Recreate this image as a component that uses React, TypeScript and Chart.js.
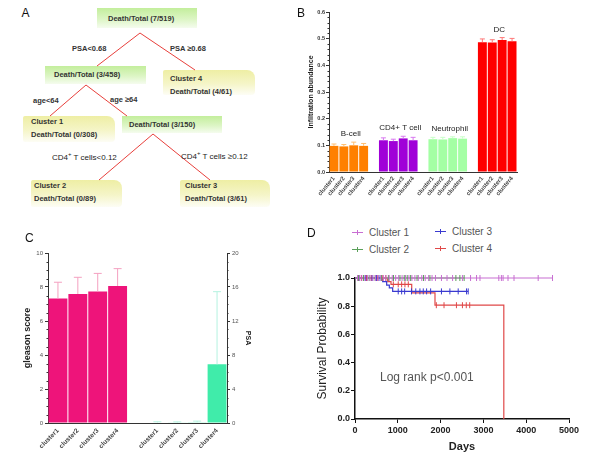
import React, { useEffect, useRef } from 'react';
import { Chart, registerables } from 'chart.js';

Chart.register(...registerables);

const FONT = '"Liberation Sans", Arial, Helvetica, sans-serif';
Chart.defaults.font.family = FONT;

// ---------------- Panel B data ----------------
const cellTypes = ['B-cell', 'CD4+ T cell', 'Neutrophil', 'DC'];
const clusterNames = ['cluster1', 'cluster2', 'cluster3', 'cluster4'];
const bcellValues = [0.098, 0.096, 0.1, 0.098];
const bcellErrors = [0.007, 0.007, 0.012, 0.009];
const cd4Values = [0.119, 0.116, 0.126, 0.119];
const cd4Errors = [0.009, 0.007, 0.008, 0.011];
const neutroValues = [0.123, 0.122, 0.127, 0.125];
const neutroErrors = [0.007, 0.008, 0.005, 0.007];
const dcValues = [0.487, 0.486, 0.495, 0.49];
const dcErrors = [0.012, 0.01, 0.009, 0.011];
const cellColors = ['#ff8000', '#a000d8', '#a4ffa4', '#ff0000'];
const cellErrColors = ['#ffbf70', '#d878f0', '#c8ffc8', '#ff7878'];

// ---------------- Panel C data ----------------
const cCategories = ['cluster1', 'cluster2', 'cluster3', 'cluster4', '', 'cluster1', 'cluster2', 'cluster3', 'cluster4'];
const gleasonValues = [7.33, 7.59, 7.73, 8.06];
const gleasonErrors = [0.95, 0.98, 1.07, 1.02];
const psaValues = [0.06, 0.05, 0.08, 6.9];
const psaErrors = [0.08, 0.08, 0.14, 8.55];

// ---------------- Panel D data ----------------
const kmNames = ['Cluster 1', 'Cluster 2', 'Cluster 3', 'Cluster 4'];
const kmColors = ['#c86ed2', '#5aa05a', '#3a3ad0', '#e04848'];
const c1Times = [0, 4615];
const c1Surv = [1, 1];
const c2Times = [0, 2550];
const c2Surv = [1, 1];
const c3Times = [0, 647, 740, 802, 880, 2645];
const c3Surv = [1, 0.974, 0.95, 0.93, 0.905, 0.905];
const c4Times = [0, 764, 841, 1325, 1869, 3477];
const c4Surv = [1, 0.975, 0.955, 0.895, 0.807, 0];
const c1Censor = [60, 110, 160, 230, 290, 350, 420, 480, 540, 600, 660, 720, 800, 870, 950, 1020, 1100, 1180, 1260, 1330, 1400, 1480, 1560, 1640, 1720, 1800, 1880, 2020, 2150, 2280, 2510, 2700, 2840, 2920, 3360, 3420, 3460, 3575, 3715, 4280, 4615];
const c2Censor = [80, 200, 330, 470, 620, 780, 900, 1050, 1150, 1220, 1300, 1450, 1600, 1750, 2357, 2450, 2550];
const c3Censor = [100, 250, 400, 500, 560, 1010, 1090, 1160, 1320, 1420, 1517, 1595, 1673, 1767, 2020, 2217, 2411, 2606, 2645];
const c4Censor = [70, 150, 270, 380, 520, 650, 720, 895, 1010, 1090, 1167, 1245, 1900, 2080, 2370, 2510, 2600, 2680];

// ---------------- plugins ----------------
function errorBars(sets: any[]) {
  return {
    id: 'errorBars',
    afterDatasetsDraw(chart: any) {
      const ctx = chart.ctx;
      sets.forEach((s) => {
        const meta = chart.getDatasetMeta(s.dataset);
        const ds = chart.data.datasets[s.dataset];
        const scale = chart.scales[meta.yAxisID];
        meta.data.forEach((el: any, i: number) => {
          const v = ds.data[i];
          const e = s.errors[i];
          if (v == null || e == null) return;
          const x = el.x;
          const y0 = scale.getPixelForValue(v);
          const y1 = scale.getPixelForValue(v + e);
          ctx.save();
          ctx.strokeStyle = Array.isArray(s.colors) ? s.colors[i] : s.colors;
          ctx.lineWidth = s.lineWidth || 1;
          ctx.beginPath();
          ctx.moveTo(x, y0);
          ctx.lineTo(x, y1);
          ctx.moveTo(x - s.cap, y1);
          ctx.lineTo(x + s.cap, y1);
          ctx.stroke();
          ctx.restore();
        });
      });
    },
  };
}

function minorTicks(specs: any[]) {
  return {
    id: 'minorTicks',
    afterDraw(chart: any) {
      const ctx = chart.ctx;
      specs.forEach((sp) => {
        const sc = chart.scales[sp.axis];
        const n = Math.round((sc.max - sc.min) / sp.step);
        ctx.save();
        ctx.strokeStyle = sp.color || '#333';
        ctx.lineWidth = 1;
        ctx.beginPath();
        for (let k = 0; k <= n; k++) {
          const v = sc.min + k * sp.step;
          const r = v / sp.major;
          if (Math.abs(r - Math.round(r)) < 1e-6) continue;
          const py = Math.round(sc.getPixelForValue(v)) + 0.5;
          if (sp.side === 'left') {
            ctx.moveTo(sc.right, py);
            ctx.lineTo(sc.right - sp.len, py);
          } else {
            ctx.moveTo(sc.left, py);
            ctx.lineTo(sc.left + sp.len, py);
          }
        }
        ctx.stroke();
        ctx.restore();
      });
    },
  };
}

function groupLabels(items: any[], errs: any[]) {
  return {
    id: 'groupLabels',
    afterDatasetsDraw(chart: any) {
      const meta = chart.getDatasetMeta(0);
      const data = chart.data.datasets[0].data;
      const ys = chart.scales.y;
      const ctx = chart.ctx;
      ctx.save();
      ctx.font = '8px ' + FONT;
      ctx.fillStyle = '#222';
      ctx.textAlign = 'center';
      ctx.textBaseline = 'middle';
      items.forEach((it) => {
        let top = 0;
        for (let i = it.from; i <= it.to; i++) top = Math.max(top, data[i] + (errs[i] || 0));
        const x = (meta.data[it.from].x + meta.data[it.to].x) / 2;
        ctx.fillText(it.text, x + 2, ys.getPixelForValue(top) - 8);
      });
      ctx.restore();
    },
  };
}

// ---------------- chart configs ----------------
function makeB() {
  const groups = [bcellValues, cd4Values, neutroValues, dcValues];
  const gErrs = [bcellErrors, cd4Errors, neutroErrors, dcErrors];
  const labels: string[] = [];
  const data: any[] = [];
  const errs: any[] = [];
  const colors: string[] = [];
  const errColors: string[] = [];
  const ranges: any[] = [];
  groups.forEach((vals, g) => {
    if (g > 0) {
      labels.push('');
      data.push(null);
      errs.push(null);
      colors.push('rgba(0,0,0,0)');
      errColors.push('rgba(0,0,0,0)');
    }
    const start = labels.length;
    vals.forEach((v, i) => {
      labels.push(clusterNames[i]);
      data.push(v);
      errs.push(gErrs[g][i]);
      colors.push(cellColors[g]);
      errColors.push(cellErrColors[g]);
    });
    ranges.push({ text: cellTypes[g], from: start, to: labels.length - 1 });
  });
  return {
    type: 'bar',
    data: {
      labels,
      datasets: [{ data, backgroundColor: colors, borderWidth: 0, barPercentage: 0.9, categoryPercentage: 1 }],
    },
    options: {
      animation: false,
      responsive: false,
      layout: { padding: { top: 12, right: 8, left: 0, bottom: 0 } },
      plugins: { legend: { display: false }, tooltip: { enabled: false } },
      scales: {
        x: {
          grid: { display: true, drawOnChartArea: false, drawTicks: false },
          border: { color: '#333', width: 1 },
          ticks: { autoSkip: false, minRotation: 50, maxRotation: 50, padding: 3, color: '#444', font: { size: 6, weight: 'bold' } },
          afterFit: (s: any) => { s.height = 53; },
        },
        y: {
          min: 0,
          max: 0.6,
          ticks: { stepSize: 0.1, callback: (v: any) => Number(v).toFixed(1), padding: 1, color: '#333', font: { size: 5.5, weight: 'bold' } },
          grid: { display: true, drawOnChartArea: false, drawTicks: true, tickLength: 3, color: '#333' },
          border: { color: '#333', width: 1 },
          title: { display: true, text: 'Infiltration abundance', color: '#222', font: { size: 7, weight: 'bold' }, padding: { top: 16.8, bottom: 0 } },
          afterFit: (s: any) => { s.width = 39; },
        },
      },
    },
    plugins: [
      errorBars([{ dataset: 0, errors: errs, colors: errColors, cap: 2.5 }]),
      minorTicks([{ axis: 'y', step: 0.02, major: 0.1, len: 1.5, side: 'left' }]),
      groupLabels(ranges, errs),
    ],
  };
}

function makeC() {
  const pink = [...gleasonValues, null, null, null, null, null];
  const pinkErr = [...gleasonErrors, null, null, null, null, null];
  const green = [null, null, null, null, null, ...psaValues];
  const greenErr = [null, null, null, null, null, ...psaErrors];
  return {
    type: 'bar',
    data: {
      labels: cCategories,
      datasets: [
        { data: pink, yAxisID: 'y', backgroundColor: '#ee147a', borderWidth: 0, grouped: false, barPercentage: 0.95, categoryPercentage: 1 },
        { data: green, yAxisID: 'y2', backgroundColor: '#40ecaa', borderWidth: 0, grouped: false, barPercentage: 0.95, categoryPercentage: 1 },
      ],
    },
    options: {
      animation: false,
      responsive: false,
      layout: { padding: { top: 23, right: 40, left: 0, bottom: 0 } },
      plugins: { legend: { display: false }, tooltip: { enabled: false } },
      scales: {
        x: {
          grid: { display: true, drawOnChartArea: false, drawTicks: false },
          border: { color: '#333', width: 1 },
          ticks: { autoSkip: false, minRotation: 45, maxRotation: 45, padding: 4, color: '#444', font: { size: 6.5, weight: 'bold' } },
          afterFit: (s: any) => { s.height = 35; },
        },
        y: {
          position: 'left',
          min: 0,
          max: 10,
          ticks: { stepSize: 2, padding: 2, color: '#555', font: { size: 6 } },
          grid: { display: true, drawOnChartArea: false, drawTicks: true, tickLength: 3, color: '#333' },
          border: { color: '#333', width: 1 },
          title: { display: true, text: 'gleason score', color: '#222', font: { size: 9, weight: 'bold' }, padding: { top: 22.6, bottom: 0 } },
          afterFit: (s: any) => { s.width = 48; },
        },
        y2: {
          position: 'right',
          min: 0,
          max: 20,
          ticks: { stepSize: 4, padding: 2, color: '#555', font: { size: 6 } },
          grid: { display: true, drawOnChartArea: false, drawTicks: true, tickLength: 3, color: '#333' },
          border: { color: '#333', width: 1 },
          title: { display: true, text: 'PSA', color: '#222', font: { size: 7, weight: 'bold' }, padding: { top: 7.8, bottom: 0 } },
          afterFit: (s: any) => { s.width = 33; },
        },
      },
    },
    plugins: [
      errorBars([
        { dataset: 0, errors: pinkErr, colors: '#f4a0c0', cap: 4 },
        { dataset: 1, errors: greenErr, colors: '#b4f2e0', cap: 4 },
      ]),
      minorTicks([
        { axis: 'y', step: 0.5, major: 2, len: 1.5, side: 'left' },
        { axis: 'y2', step: 1, major: 4, len: 1.5, side: 'right' },
      ]),
    ],
  };
}

function survAt(times: number[], surv: number[], t: number) {
  let s = surv[0];
  for (let i = 0; i < times.length; i++) if (times[i] <= t) s = surv[i];
  return s;
}

function makeD() {
  const curves = [
    [c1Times, c1Surv, c1Censor],
    [c2Times, c2Surv, c2Censor],
    [c3Times, c3Surv, c3Censor],
    [c4Times, c4Surv, c4Censor],
  ] as any[];
  const datasets: any[] = [];
  curves.forEach((c, k) => {
    const [times, surv, cens] = c;
    datasets.push({
      data: cens.map((t: number) => ({ x: t, y: survAt(times, surv, t) })),
      showLine: false,
      pointStyle: 'line',
      rotation: 90,
      pointRadius: 3,
      pointBorderWidth: 1,
      borderColor: kmColors[k],
      backgroundColor: kmColors[k],
      clip: false,
    });
  });
  curves.forEach((c, k) => {
    const [times, surv] = c;
    datasets.push({
      data: times.map((t: number, i: number) => ({ x: t, y: surv[i] })),
      stepped: true,
      pointRadius: 0,
      borderWidth: 1.2,
      borderColor: kmColors[k],
      fill: false,
      clip: false,
    });
  });
  return {
    type: 'line',
    data: { datasets },
    options: {
      animation: false,
      responsive: false,
      layout: { padding: { top: 23, right: 47, left: 0, bottom: 0 } },
      plugins: { legend: { display: false }, tooltip: { enabled: false } },
      scales: {
        x: {
          type: 'linear',
          min: 0,
          max: 5000,
          ticks: { stepSize: 1000, callback: (v: any) => String(v), padding: 2, color: '#222', font: { size: 9, weight: 'bold' } },
          grid: { display: true, drawOnChartArea: false, drawTicks: true, tickLength: 4, color: '#111' },
          border: { color: '#111', width: 1.5 },
          title: { display: true, text: 'Days', color: '#222', font: { size: 11, weight: 'bold' }, padding: { top: 0, bottom: 4.7 } },
          afterFit: (s: any) => { s.height = 39; },
        },
        y: {
          min: 0,
          max: 1,
          ticks: { stepSize: 0.2, callback: (v: any) => Number(v).toFixed(1), padding: 1, color: '#222', font: { size: 9, weight: 'bold' } },
          grid: { display: true, drawOnChartArea: false, drawTicks: true, tickLength: 4, color: '#111' },
          border: { color: '#111', width: 1.5 },
          title: { display: true, text: 'Survival Probability', color: '#222', font: { size: 12 }, padding: { top: 15.5, bottom: 0 } },
          afterFit: (s: any) => { s.width = 55; },
        },
      },
    },
  };
}

// ---------------- components ----------------
function ChartBox({ left, top, width, height, make }: any) {
  const ref = useRef<HTMLCanvasElement>(null);
  useEffect(() => {
    const chart = new Chart(ref.current as HTMLCanvasElement, make());
    return () => chart.destroy();
  }, []);
  return (
    <canvas ref={ref} width={width} height={height} style={{ position: 'absolute', left, top, width, height }} />
  );
}

function T({ x, y, size, bold, color, children }: any) {
  return (
    <div
      style={{
        position: 'absolute',
        left: x,
        top: y - size / 2,
        fontSize: size,
        lineHeight: 1,
        fontWeight: bold ? 'bold' : 'normal',
        color: color || '#222',
        whiteSpace: 'nowrap',
        fontFamily: FONT,
      }}
    >
      {children}
    </div>
  );
}

const GREEN_BG = 'linear-gradient(to bottom, #c3ee9c 0%, #dcf5c4 55%, #f5fcee 100%)';
const YELLOW_BG = 'linear-gradient(to bottom, #eeeea4 0%, #f5f5c8 55%, #fdfdf5 100%)';

function Box({ x, y, w, h, kind }: any) {
  return (
    <div
      style={{
        position: 'absolute',
        left: x,
        top: y,
        width: w,
        height: h,
        background: kind === 'g' ? GREEN_BG : YELLOW_BG,
        borderRadius: kind === 'g' ? 0 : '2px 8px 4px 2px',
      }}
    />
  );
}

function Tree() {
  const lines = [
    [140, 33, 97, 66],
    [140, 33, 195, 70],
    [86, 85, 50, 116],
    [86, 85, 127, 116],
    [153, 134, 99, 180],
    [153, 134, 210, 180],
  ];
  return (
    <>
      <Box x={97} y={8} w={100} h={20} kind="g" />
      <Box x={45} y={66} w={101} h={18} kind="g" />
      <Box x={163} y={70} w={92} h={25} kind="y" />
      <Box x={23} y={116} w={92} h={26} kind="y" />
      <Box x={122} y={116} w={100} h={17} kind="g" />
      <Box x={31} y={180} w={91} h={27} kind="y" />
      <Box x={180} y={180} w={90} h={27} kind="y" />
      <svg width={300} height={230} style={{ position: 'absolute', left: 0, top: 0 }}>
        {lines.map((l, i) => (
          <line key={i} x1={l[0]} y1={l[1]} x2={l[2]} y2={l[3]} stroke="#e8403c" strokeWidth={1} />
        ))}
      </svg>
      <T x={108} y={19} size={7.5} bold color="#333">Death/Total (7/519)</T>
      <T x={54} y={74.5} size={7.5} bold color="#333">Death/Total (3/458)</T>
      <T x={129} y={124.5} size={7.5} bold color="#333">Death/Total (3/150)</T>
      <T x={170} y={79} size={7.5} bold color="#333">Cluster 4</T>
      <T x={170} y={92} size={7.5} bold color="#333">Death/Total (4/61)</T>
      <T x={31} y={122} size={7.5} bold color="#333">Cluster 1</T>
      <T x={31} y={135} size={7.5} bold color="#333">Death/Total (0/308)</T>
      <T x={34} y={186} size={7.5} bold color="#333">Cluster 2</T>
      <T x={34} y={199} size={7.5} bold color="#333">Death/Total (0/89)</T>
      <T x={185} y={186} size={7.5} bold color="#333">Cluster 3</T>
      <T x={185} y={199} size={7.5} bold color="#333">Death/Total (3/61)</T>
      <T x={72} y={49} size={7.5} bold color="#333">PSA&lt;0.68</T>
      <T x={170} y={49} size={7.5} bold color="#333">PSA ≥0.68</T>
      <T x={33} y={101} size={7.5} bold color="#333">age&lt;64</T>
      <T x={110} y={99.5} size={7.5} bold color="#333">age ≥64</T>
      <T x={52} y={155} size={8} color="#222">CD4<sup style={{ fontSize: 6 }}>+</sup> T cells&lt;0.12</T>
      <T x={181} y={154} size={8} color="#222">CD4<sup style={{ fontSize: 6 }}>+</sup> T cells ≥0.12</T>
    </>
  );
}

function LegendItem({ x, y, color, text }: any) {
  return (
    <>
      <div style={{ position: 'absolute', left: x, top: y, width: 11, height: 1, background: color }} />
      <div style={{ position: 'absolute', left: x + 5, top: y - 2.5, width: 1, height: 5, background: color }} />
      <T x={x + 17} y={y + 0.5} size={10} color="#555">{text}</T>
    </>
  );
}

export default function App() {
  return (
    <div
      style={{
        position: 'absolute',
        left: 0,
        top: 0,
        width: 616,
        height: 458,
        background: '#fff',
        overflow: 'hidden',
        fontFamily: FONT,
      }}
    >
      <Tree />
      <ChartBox left={290} top={0} width={235} height={225} make={makeB} />
      <ChartBox left={0} top={230} width={300} height={228} make={makeC} />
      <ChartBox left={300} top={255} width={316} height={203} make={makeD} />
      <LegendItem x={352} y={232} color={kmColors[0]} text={kmNames[0]} />
      <LegendItem x={352} y={249} color={kmColors[1]} text={kmNames[1]} />
      <LegendItem x={435} y={231} color={kmColors[2]} text={kmNames[2]} />
      <LegendItem x={435} y={248} color={kmColors[3]} text={kmNames[3]} />
      <T x={380} y={377} size={12} color="#555">Log rank p&lt;0.001</T>
      <T x={21.5} y={13.3} size={12} color="#111">A</T>
      <T x={297} y={13} size={12} color="#111">B</T>
      <T x={25} y={237.5} size={12} color="#111">C</T>
      <T x={307} y={233} size={12} color="#111">D</T>
    </div>
  );
}
